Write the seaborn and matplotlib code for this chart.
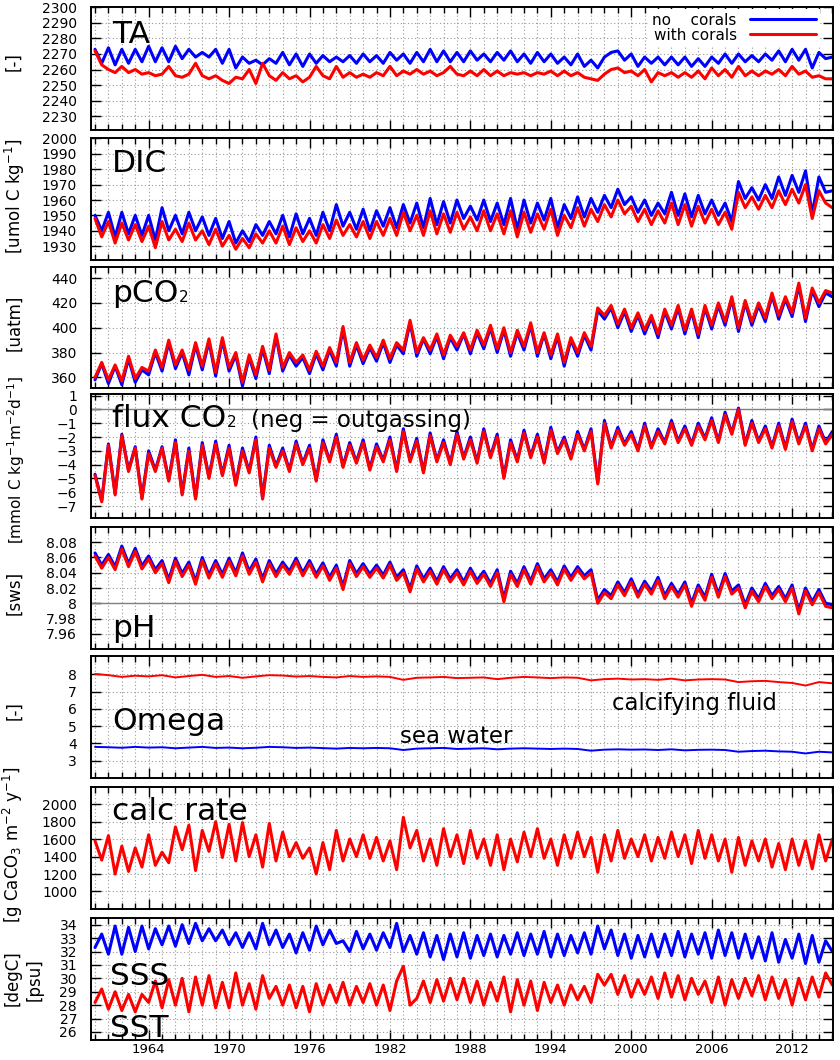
import numpy as np
import pandas as pd
import matplotlib
matplotlib.use("Agg")
import matplotlib.pyplot as plt
import seaborn as sns
from matplotlib.ticker import MultipleLocator, FixedLocator

# time axis: two samples per year (1960.0, 1960.5, ... 2015.0)
years = np.arange(1960.0, 2015.01, 0.5)
years_omega = np.arange(1960, 2016)

# TA [-]
ta_no = [2273, 2264, 2274, 2263, 2273, 2264, 2273, 2265, 2275, 2265, 2274, 2265, 2275, 2267, 2273, 2268, 2271, 2268, 2273, 2264,
         2273, 2261, 2268, 2264, 2266, 2263, 2267, 2264, 2271, 2263, 2270, 2262, 2270, 2264, 2269, 2265, 2268, 2265, 2269, 2264,
         2270, 2265, 2269, 2264, 2271, 2266, 2270, 2264, 2271, 2265, 2273, 2265, 2272, 2265, 2271, 2265, 2272, 2266, 2270, 2265,
         2271, 2266, 2272, 2265, 2270, 2264, 2271, 2265, 2270, 2264, 2268, 2263, 2270, 2262, 2266, 2261, 2268, 2271, 2272, 2266,
         2270, 2262, 2268, 2264, 2268, 2263, 2268, 2263, 2268, 2262, 2267, 2262, 2268, 2264, 2270, 2264, 2270, 2265, 2269, 2265,
         2270, 2266, 2272, 2265, 2273, 2266, 2273, 2261, 2271, 2267, 2268]
ta_with = [2272, 2263, 2260, 2258, 2262, 2258, 2260, 2257, 2258, 2256, 2257, 2262, 2256, 2255, 2257, 2264, 2256, 2254, 2256, 2253,
           2251, 2255, 2254, 2260, 2251, 2264, 2256, 2253, 2258, 2254, 2256, 2252, 2255, 2262, 2256, 2254, 2262, 2255, 2258, 2255,
           2257, 2255, 2258, 2256, 2262, 2256, 2259, 2257, 2260, 2257, 2259, 2256, 2258, 2262, 2257, 2256, 2259, 2256, 2260, 2256,
           2259, 2256, 2258, 2257, 2258, 2256, 2258, 2257, 2259, 2256, 2259, 2256, 2258, 2255, 2254, 2253, 2257, 2260, 2261, 2258,
           2259, 2256, 2260, 2252, 2258, 2256, 2258, 2255, 2258, 2255, 2259, 2254, 2261, 2256, 2260, 2255, 2262, 2256, 2259, 2256,
           2259, 2257, 2260, 2256, 2262, 2257, 2259, 2255, 2256, 2254, 2254]

# DIC [umol C kg-1]
dic_no = [1950, 1940, 1952, 1936, 1952, 1938, 1950, 1937, 1950, 1934, 1955, 1940, 1950, 1938, 1952, 1940, 1949, 1937, 1948, 1935,
          1946, 1932, 1940, 1933, 1944, 1937, 1946, 1938, 1950, 1936, 1951, 1938, 1948, 1937, 1952, 1940, 1957, 1943, 1952, 1941,
          1954, 1940, 1953, 1943, 1955, 1942, 1957, 1945, 1958, 1942, 1961, 1944, 1959, 1945, 1960, 1948, 1956, 1947, 1960, 1946,
          1958, 1944, 1961, 1941, 1960, 1945, 1958, 1947, 1961, 1942, 1957, 1948, 1962, 1949, 1961, 1952, 1963, 1955, 1967, 1957,
          1962, 1952, 1960, 1950, 1958, 1951, 1965, 1950, 1964, 1949, 1963, 1951, 1960, 1950, 1958, 1946, 1972, 1961, 1968, 1960,
          1970, 1961, 1975, 1963, 1976, 1965, 1979, 1951, 1975, 1965, 1966]
dic_with = [1948, 1936, 1946, 1932, 1945, 1934, 1944, 1933, 1943, 1929, 1946, 1934, 1941, 1933, 1945, 1934, 1940, 1931, 1941, 1930,
            1937, 1928, 1935, 1929, 1938, 1932, 1940, 1932, 1943, 1931, 1942, 1933, 1940, 1932, 1944, 1935, 1947, 1937, 1944, 1936,
            1946, 1935, 1946, 1937, 1948, 1937, 1952, 1940, 1950, 1937, 1953, 1938, 1951, 1939, 1952, 1941, 1949, 1940, 1953, 1940,
            1951, 1938, 1953, 1936, 1952, 1939, 1951, 1941, 1954, 1937, 1950, 1942, 1955, 1943, 1954, 1946, 1957, 1949, 1960, 1951,
            1956, 1946, 1954, 1944, 1953, 1945, 1958, 1944, 1957, 1943, 1956, 1945, 1954, 1944, 1952, 1941, 1965, 1955, 1962, 1954,
            1963, 1955, 1966, 1957, 1967, 1958, 1970, 1948, 1966, 1958, 1955]

# pCO2 [uatm]
pco2_no = [358, 371, 355, 369, 354, 375, 356, 366, 362, 380, 365, 388, 367, 380, 362, 386, 366, 389, 361, 390,
           365, 378, 353, 376, 359, 383, 363, 393, 365, 378, 369, 376, 363, 379, 366, 382, 369, 399, 369, 386,
           371, 384, 373, 388, 372, 386, 379, 404, 377, 391, 379, 393, 375, 392, 382, 395, 379, 396, 383, 400,
           380, 398, 377, 396, 382, 402, 377, 395, 375, 393, 369, 390, 377, 394, 382, 414, 407, 416, 400, 413,
           397, 410, 395, 408, 392, 413, 399, 416, 395, 413, 392, 416, 399, 418, 402, 423, 397, 420, 402, 418,
           405, 426, 407, 423, 409, 434, 405, 430, 417, 428, 425]
pco2_with = [360, 372, 358, 370, 357, 377, 359, 368, 365, 382, 368, 390, 370, 382, 366, 388, 369, 391, 364, 392,
             368, 380, 356, 378, 362, 385, 366, 395, 368, 380, 372, 378, 366, 381, 369, 384, 372, 401, 372, 388,
             374, 386, 376, 390, 375, 388, 382, 406, 380, 392, 382, 395, 378, 394, 385, 396, 382, 398, 386, 402,
             383, 400, 380, 398, 385, 404, 380, 396, 378, 395, 372, 392, 380, 396, 385, 416, 410, 418, 403, 415,
             400, 412, 398, 410, 395, 415, 402, 418, 398, 415, 395, 418, 402, 420, 405, 425, 400, 422, 405, 420,
             408, 428, 410, 425, 412, 436, 408, 432, 420, 430, 428]

# flux CO2 [mmol C kg-1 m-2 d-1]
flux_no = [-4.7, -6.6, -2.5, -6.1, -1.8, -4.4, -2.7, -6.4, -3.0, -4.4, -2.7, -5.1, -2.2, -6.1, -2.8, -6.4, -2.4, -4.9, -2.3, -4.7,
           -2.6, -5.4, -2.8, -4.5, -2.0, -6.4, -2.6, -4.1, -2.8, -4.4, -2.3, -3.9, -2.6, -5.1, -2.2, -3.7, -1.8, -4.1, -2.4, -3.8,
           -2.2, -4.3, -2.5, -3.7, -2.0, -4.4, -1.4, -3.7, -2.1, -4.5, -1.7, -3.7, -2.2, -3.9, -1.6, -3.5, -2.0, -3.8, -1.4, -3.4,
           -1.8, -4.9, -2.2, -3.7, -1.5, -3.4, -1.8, -3.8, -1.3, -3.1, -2.0, -3.5, -1.6, -2.9, -1.4, -5.3, -0.8, -2.7, -1.3, -2.5,
           -1.6, -2.9, -1.0, -2.7, -1.4, -2.4, -0.8, -2.3, -1.2, -2.5, -1.0, -2.1, -0.6, -2.3, -0.2, -1.7, 0.1, -2.5, -0.8, -2.3,
           -1.2, -2.7, -1.0, -2.8, -0.7, -2.4, -1.0, -2.9, -1.2, -2.4, -1.6]
flux_with = [-4.8, -6.7, -2.6, -6.2, -1.9, -4.5, -2.8, -6.5, -3.2, -4.5, -2.8, -5.2, -2.4, -6.2, -3.0, -6.5, -2.6, -5.0, -2.5, -4.8,
             -2.8, -5.5, -3.0, -4.6, -2.2, -6.5, -2.8, -4.2, -3.0, -4.5, -2.5, -4.0, -2.8, -5.2, -2.4, -3.8, -2.0, -4.2, -2.6, -3.9,
             -2.4, -4.4, -2.7, -3.8, -2.2, -4.5, -1.6, -3.8, -2.3, -4.6, -1.9, -3.8, -2.4, -4.0, -1.8, -3.6, -2.2, -3.9, -1.6, -3.5,
             -2.0, -5.0, -2.4, -3.8, -1.7, -3.5, -2.0, -3.9, -1.5, -3.2, -2.2, -3.6, -1.8, -3.0, -1.6, -5.4, -1.0, -2.8, -1.5, -2.6,
             -1.8, -3.0, -1.2, -2.8, -1.6, -2.5, -1.0, -2.4, -1.4, -2.6, -1.2, -2.2, -0.8, -2.4, -0.4, -1.8, 0.0, -2.6, -1.0, -2.4,
             -1.4, -2.8, -1.2, -2.9, -0.9, -2.5, -1.2, -3.0, -1.4, -2.5, -1.8]

# pH [sws]
ph_no = [8.066, 8.050, 8.064, 8.048, 8.075, 8.052, 8.072, 8.049, 8.062, 8.044, 8.056, 8.031, 8.059, 8.039, 8.054, 8.029, 8.060, 8.037, 8.056, 8.038,
         8.059, 8.040, 8.066, 8.042, 8.058, 8.032, 8.056, 8.039, 8.054, 8.042, 8.059, 8.040, 8.056, 8.038, 8.053, 8.034, 8.050, 8.022, 8.056, 8.039,
         8.052, 8.038, 8.050, 8.037, 8.054, 8.034, 8.044, 8.019, 8.049, 8.032, 8.046, 8.029, 8.048, 8.032, 8.044, 8.028, 8.046, 8.030, 8.042, 8.026,
         8.044, 8.006, 8.042, 8.026, 8.048, 8.029, 8.052, 8.032, 8.044, 8.028, 8.049, 8.034, 8.048, 8.036, 8.044, 8.004, 8.018, 8.010, 8.028, 8.014,
         8.032, 8.012, 8.029, 8.016, 8.034, 8.010, 8.026, 8.012, 8.028, 8.000, 8.024, 8.008, 8.038, 8.012, 8.039, 8.016, 8.024, 7.998, 8.020, 8.006,
         8.026, 8.010, 8.022, 8.006, 8.024, 7.990, 8.020, 8.002, 8.018, 8.000, 7.998]
ph_with = [8.062, 8.046, 8.060, 8.044, 8.071, 8.048, 8.068, 8.045, 8.058, 8.040, 8.052, 8.027, 8.055, 8.035, 8.050, 8.025, 8.056, 8.033, 8.052, 8.034,
           8.055, 8.036, 8.062, 8.038, 8.054, 8.028, 8.052, 8.035, 8.050, 8.038, 8.055, 8.036, 8.052, 8.034, 8.049, 8.030, 8.046, 8.018, 8.052, 8.035,
           8.048, 8.034, 8.046, 8.033, 8.050, 8.030, 8.040, 8.015, 8.045, 8.028, 8.042, 8.025, 8.044, 8.028, 8.040, 8.024, 8.042, 8.026, 8.038, 8.022,
           8.040, 8.002, 8.038, 8.022, 8.044, 8.025, 8.048, 8.028, 8.040, 8.024, 8.045, 8.030, 8.044, 8.032, 8.040, 8.000, 8.014, 8.006, 8.024, 8.010,
           8.028, 8.008, 8.025, 8.012, 8.030, 8.006, 8.022, 8.008, 8.024, 7.996, 8.020, 8.004, 8.034, 8.008, 8.035, 8.012, 8.020, 7.994, 8.016, 8.002,
           8.022, 8.006, 8.018, 8.002, 8.020, 7.986, 8.016, 7.998, 8.014, 7.996, 7.994]

# Omega [-], one value per year
omega_sea = [3.80, 3.78, 3.75, 3.80, 3.76, 3.78, 3.72, 3.76, 3.80, 3.74, 3.76, 3.72, 3.75, 3.80, 3.78, 3.74, 3.76, 3.73, 3.70, 3.74,
             3.72, 3.74, 3.72, 3.62, 3.70, 3.72, 3.74, 3.68, 3.70, 3.72, 3.66, 3.70, 3.72, 3.70, 3.68, 3.70, 3.68, 3.58, 3.64, 3.66,
             3.64, 3.65, 3.62, 3.66, 3.60, 3.63, 3.64, 3.62, 3.52, 3.56, 3.58, 3.54, 3.52, 3.42, 3.52, 3.48]
omega_fluid = [8.02, 7.95, 7.85, 7.92, 7.88, 7.95, 7.82, 7.90, 7.97, 7.85, 7.90, 7.80, 7.88, 7.95, 7.93, 7.87, 7.90, 7.85, 7.82, 7.90,
               7.85, 7.88, 7.85, 7.68, 7.80, 7.82, 7.85, 7.78, 7.80, 7.82, 7.72, 7.80, 7.85, 7.82, 7.78, 7.82, 7.80, 7.65, 7.72, 7.75,
               7.70, 7.72, 7.68, 7.75, 7.65, 7.70, 7.72, 7.70, 7.55, 7.60, 7.62, 7.55, 7.50, 7.35, 7.55, 7.48]

# calc rate [g CaCO3 m-2 y-1]
calc_rate = [1580, 1360, 1640, 1200, 1520, 1230, 1500, 1280, 1650, 1300, 1450, 1330, 1740, 1480, 1760, 1240, 1700, 1460, 1800, 1390,
             1770, 1350, 1790, 1400, 1650, 1280, 1780, 1350, 1680, 1400, 1560, 1380, 1500, 1200, 1560, 1250, 1700, 1350, 1600, 1400,
             1650, 1380, 1620, 1350, 1580, 1250, 1850, 1500, 1700, 1350, 1600, 1300, 1720, 1400, 1650, 1320, 1700, 1380, 1600, 1300,
             1650, 1250, 1600, 1340, 1680, 1400, 1720, 1380, 1600, 1300, 1650, 1380, 1680, 1400, 1620, 1220, 1650, 1350, 1700, 1380,
             1600, 1400, 1650, 1350, 1620, 1380, 1680, 1400, 1650, 1320, 1700, 1380, 1650, 1350, 1600, 1220, 1620, 1300, 1580, 1350,
             1600, 1280, 1550, 1250, 1600, 1300, 1580, 1260, 1650, 1350, 1600]

# SSS [psu] and SST [degC]
sss = [32.3, 33.3, 31.8, 33.9, 31.8, 33.8, 32.0, 33.9, 32.2, 33.7, 32.5, 33.9, 32.4, 34.0, 32.6, 34.1, 32.8, 33.7, 32.8, 33.6,
       32.5, 33.4, 32.3, 33.4, 32.2, 34.1, 32.5, 33.6, 32.3, 33.3, 31.9, 33.4, 32.1, 33.9, 32.5, 33.6, 32.6, 32.8, 32.0, 33.5,
       32.2, 33.3, 32.1, 33.4, 32.3, 34.1, 32.0, 33.2, 31.8, 33.4, 31.6, 33.2, 31.4, 33.3, 31.6, 33.4, 31.5, 33.2, 31.7, 33.3,
       31.6, 33.2, 31.8, 33.4, 31.7, 33.3, 31.8, 33.5, 31.6, 33.3, 31.7, 33.2, 31.9, 33.4, 31.8, 33.9, 32.2, 33.6, 31.7, 33.3,
       31.5, 33.2, 31.6, 33.3, 31.6, 33.3, 31.7, 33.5, 31.6, 33.3, 31.8, 33.4, 31.5, 33.6, 31.7, 33.4, 31.5, 33.3, 31.5, 33.1,
       31.3, 33.4, 31.2, 32.9, 31.5, 33.3, 31.1, 33.2, 31.2, 32.8, 32.0]
sst = [28.2, 29.2, 27.7, 29.0, 27.6, 28.8, 27.5, 28.8, 28.2, 29.8, 27.8, 29.9, 28.0, 30.0, 27.5, 30.1, 28.0, 30.2, 27.8, 29.7,
       27.8, 30.4, 28.0, 29.6, 27.7, 30.2, 28.5, 29.4, 28.0, 29.5, 27.8, 29.4, 27.5, 29.6, 28.0, 29.5, 28.2, 29.7, 28.0, 29.4,
       28.2, 29.6, 28.0, 29.5, 27.6, 29.8, 30.9, 28.0, 28.5, 29.8, 28.2, 29.9, 28.3, 30.0, 28.4, 30.0, 28.2, 29.8, 28.0, 29.7,
       28.3, 30.1, 27.5, 29.9, 28.0, 29.8, 27.6, 29.7, 28.2, 29.5, 28.0, 29.5, 28.4, 29.4, 28.2, 30.3, 29.5, 30.3, 28.8, 30.2,
       28.6, 29.9, 28.8, 30.1, 28.5, 30.4, 28.6, 30.2, 28.4, 30.0, 28.8, 29.8, 28.2, 30.1, 28.0, 29.9, 28.5, 30.0, 28.7, 30.2,
       28.4, 30.1, 28.5, 29.9, 28.0, 30.0, 28.4, 30.1, 28.6, 30.4, 29.5]

for name, arr in [("ta_no", ta_no), ("ta_with", ta_with), ("dic_no", dic_no), ("dic_with", dic_with),
                  ("pco2_no", pco2_no), ("pco2_with", pco2_with), ("flux_no", flux_no), ("flux_with", flux_with),
                  ("ph_no", ph_no), ("ph_with", ph_with), ("calc_rate", calc_rate), ("sss", sss), ("sst", sst)]:
    assert len(arr) == len(years), (name, len(arr))
assert len(omega_sea) == len(years_omega) and len(omega_fluid) == len(years_omega)

BLUE = "#0000ff"
RED = "#ff0000"
W, H = 840, 1060

sns.set_style("ticks")
plt.rcParams["font.family"] = ["DejaVu Sans"]
plt.rcParams["mathtext.fontset"] = "dejavusans"
plt.rcParams["axes.linewidth"] = 1.4
plt.rcParams["axes.edgecolor"] = "black"
plt.rcParams["text.color"] = "black"
plt.rcParams["xtick.color"] = "black"
plt.rcParams["ytick.color"] = "black"
plt.rcParams["axes.labelcolor"] = "black"

fig = plt.figure(figsize=(W / 100, H / 100), dpi=100)

# panel extents in pixels (top, bottom)
panels = [(7, 130), (138, 260), (267, 388), (394, 518), (527, 649), (656, 778), (787, 909), (918, 1040)]
left_px, right_px = 91, 833
axes = []
for top, bot in panels:
    ax = fig.add_axes([left_px / W, 1 - bot / H, (right_px - left_px) / W, (bot - top) / H])
    axes.append(ax)


def style(ax, ylim, yticks, ylabels=None, bottom=False):
    ax.set_xlim(1959.7, 2015.05)
    ax.set_ylim(*ylim)
    ax.set_yticks(yticks)
    if ylabels is not None:
        ax.set_yticklabels(ylabels)
    ax.xaxis.set_major_locator(FixedLocator(list(range(1964, 2015, 6))))
    ax.xaxis.set_minor_locator(MultipleLocator(1))
    ax.tick_params(which="both", direction="in", top=True, right=True, colors="black")
    ax.tick_params(which="major", length=7, width=1.0, labelsize=10, pad=10)
    ax.tick_params(which="minor", length=4, width=1.0)
    ax.tick_params(axis="x", which="major", pad=2.5, labelsize=9.5)
    ax.tick_params(labelbottom=bottom)
    grid_kw = dict(color="#9a9a9a", linestyle=(0, (1, 2.2)), linewidth=0.8)
    ax.grid(which="both", axis="x", **grid_kw)
    ax.grid(which="major", axis="y", **grid_kw)
    ax.set_axisbelow(True)
    ax.set_xlabel("")
    ax.set_ylabel("")
    for sp in ax.spines.values():
        sp.set_visible(True)
        sp.set_linewidth(1.4)
        sp.set_color("black")


LW = 2.2
df = pd.DataFrame({"year": years, "ta_no": ta_no, "ta_with": ta_with, "dic_no": dic_no, "dic_with": dic_with,
                   "pco2_no": pco2_no, "pco2_with": pco2_with, "flux_no": flux_no, "flux_with": flux_with,
                   "ph_no": ph_no, "ph_with": ph_with, "calc": calc_rate, "sss": sss, "sst": sst})
dfo = pd.DataFrame({"year": years_omega, "sea": omega_sea, "fluid": omega_fluid})

# TA
ax = axes[0]
sns.lineplot(data=df, x="year", y="ta_no", ax=ax, color=BLUE, lw=LW, label="no    corals")
sns.lineplot(data=df, x="year", y="ta_with", ax=ax, color=RED, lw=LW, label="with corals")
style(ax, (2221, 2300.3), list(range(2230, 2301, 10)))
leg = ax.legend(loc="upper right", bbox_to_anchor=((820 - left_px) / (right_px - left_px), 1 - 2 / 123),
                fontsize=11, handlelength=4.3, handletextpad=0.9, labelspacing=0.0, borderpad=0.25,
                markerfirst=False, frameon=True, framealpha=1, fancybox=False, borderaxespad=0)
leg.get_frame().set_edgecolor("none")
leg.get_frame().set_facecolor("white")
for txt in leg.get_texts():
    txt.set_ha("right")
    txt.set_color("black")

# DIC
ax = axes[1]
sns.lineplot(data=df, x="year", y="dic_no", ax=ax, color=BLUE, lw=LW)
sns.lineplot(data=df, x="year", y="dic_with", ax=ax, color=RED, lw=LW)
style(ax, (1921, 2000.3), list(range(1930, 2001, 10)))

# pCO2
ax = axes[2]
sns.lineplot(data=df, x="year", y="pco2_no", ax=ax, color=BLUE, lw=LW)
sns.lineplot(data=df, x="year", y="pco2_with", ax=ax, color=RED, lw=LW)
style(ax, (351.4, 449), list(range(360, 441, 20)))

# flux CO2
ax = axes[3]
ax.axhline(0, color="#808080", lw=1.0, zorder=1)
sns.lineplot(data=df, x="year", y="flux_no", ax=ax, color=BLUE, lw=LW)
sns.lineplot(data=df, x="year", y="flux_with", ax=ax, color=RED, lw=LW)
style(ax, (-7.87, 1.12), list(range(-7, 2)))

# pH
ax = axes[4]
ax.axhline(8.0, color="#808080", lw=1.0, zorder=1)
sns.lineplot(data=df, x="year", y="ph_no", ax=ax, color=BLUE, lw=LW)
sns.lineplot(data=df, x="year", y="ph_with", ax=ax, color=RED, lw=LW)
ph_ticks = [7.96, 7.98, 8.0, 8.02, 8.04, 8.06, 8.08]
style(ax, (7.94, 8.10), ph_ticks, ["7.96", "7.98", "8", "8.02", "8.04", "8.06", "8.08"])

# Omega
ax = axes[5]
sns.lineplot(data=dfo, x="year", y="sea", ax=ax, color=BLUE, lw=1.4)
sns.lineplot(data=dfo, x="year", y="fluid", ax=ax, color=RED, lw=1.4)
style(ax, (2.0, 9.06), list(range(3, 9)))

# calc rate
ax = axes[6]
sns.lineplot(data=df, x="year", y="calc", ax=ax, color=RED, lw=LW)
style(ax, (799, 2198), list(range(1000, 2001, 200)))

# SSS / SST
ax = axes[7]
sns.lineplot(data=df, x="year", y="sss", ax=ax, color=BLUE, lw=LW)
sns.lineplot(data=df, x="year", y="sst", ax=ax, color=RED, lw=LW)
style(ax, (25.4, 34.5), list(range(26, 35)), bottom=True)


def ftext(x, y, s, size, **kw):
    return fig.text(x / W, 1 - y / H, s, fontsize=size, ha="left", va="baseline", color="black", **kw)


def ylab(x, y, s, size=12):
    fig.text(x / W, 1 - y / H, s, fontsize=size, rotation=90, ha="center", va="center", color="black")


BIG = 22.5
ftext(112, 43, "TA", BIG)
ftext(112, 172, "DIC", BIG)
t_pco = ftext(112, 302, "pCO", BIG)
t_flux = ftext(112, 427, "flux CO", BIG)
ftext(112, 637, "pH", BIG)
ftext(112, 730, "Omega", BIG)
ftext(112, 820, "calc rate", BIG)
ftext(110, 985, "SSS", BIG)
ftext(110, 1037, "SST", BIG)
ftext(400, 743, "sea water", 16.5)
ftext(612, 710, "calcifying fluid", 16.5)

ylab(13, 62, "[-]")
ylab(15, 196, r"[umol C kg$^{-1}$]")
ylab(14, 323, "[uatm]")
ylab(16, 460, r"[mmol C kg$^{-1}$m$^{-2}$d$^{-1}$]", 11)
ylab(14, 593, "[sws]")
ylab(14, 711, "[-]")
ylab(13, 845, r"[g CaCO$_3$ m$^{-2}$ y$^{-1}$]")
ylab(13, 978, "[degC]")
ylab(35, 980, "[psu]")

# small "2" after pCO / flux CO, then the note
fig.canvas.draw()
r = fig.canvas.get_renderer()
bb = t_pco.get_window_extent(r)
ftext(bb.x1 + 1, 302, "2", 11)
bb = t_flux.get_window_extent(r)
t2 = ftext(bb.x1 + 1, 427, "2", 11)
bb2 = t2.get_window_extent(fig.canvas.get_renderer())
ftext(bb2.x1 + 14, 427, "(neg = outgassing)", 16.5)

fig.savefig("out.png", dpi=100)
